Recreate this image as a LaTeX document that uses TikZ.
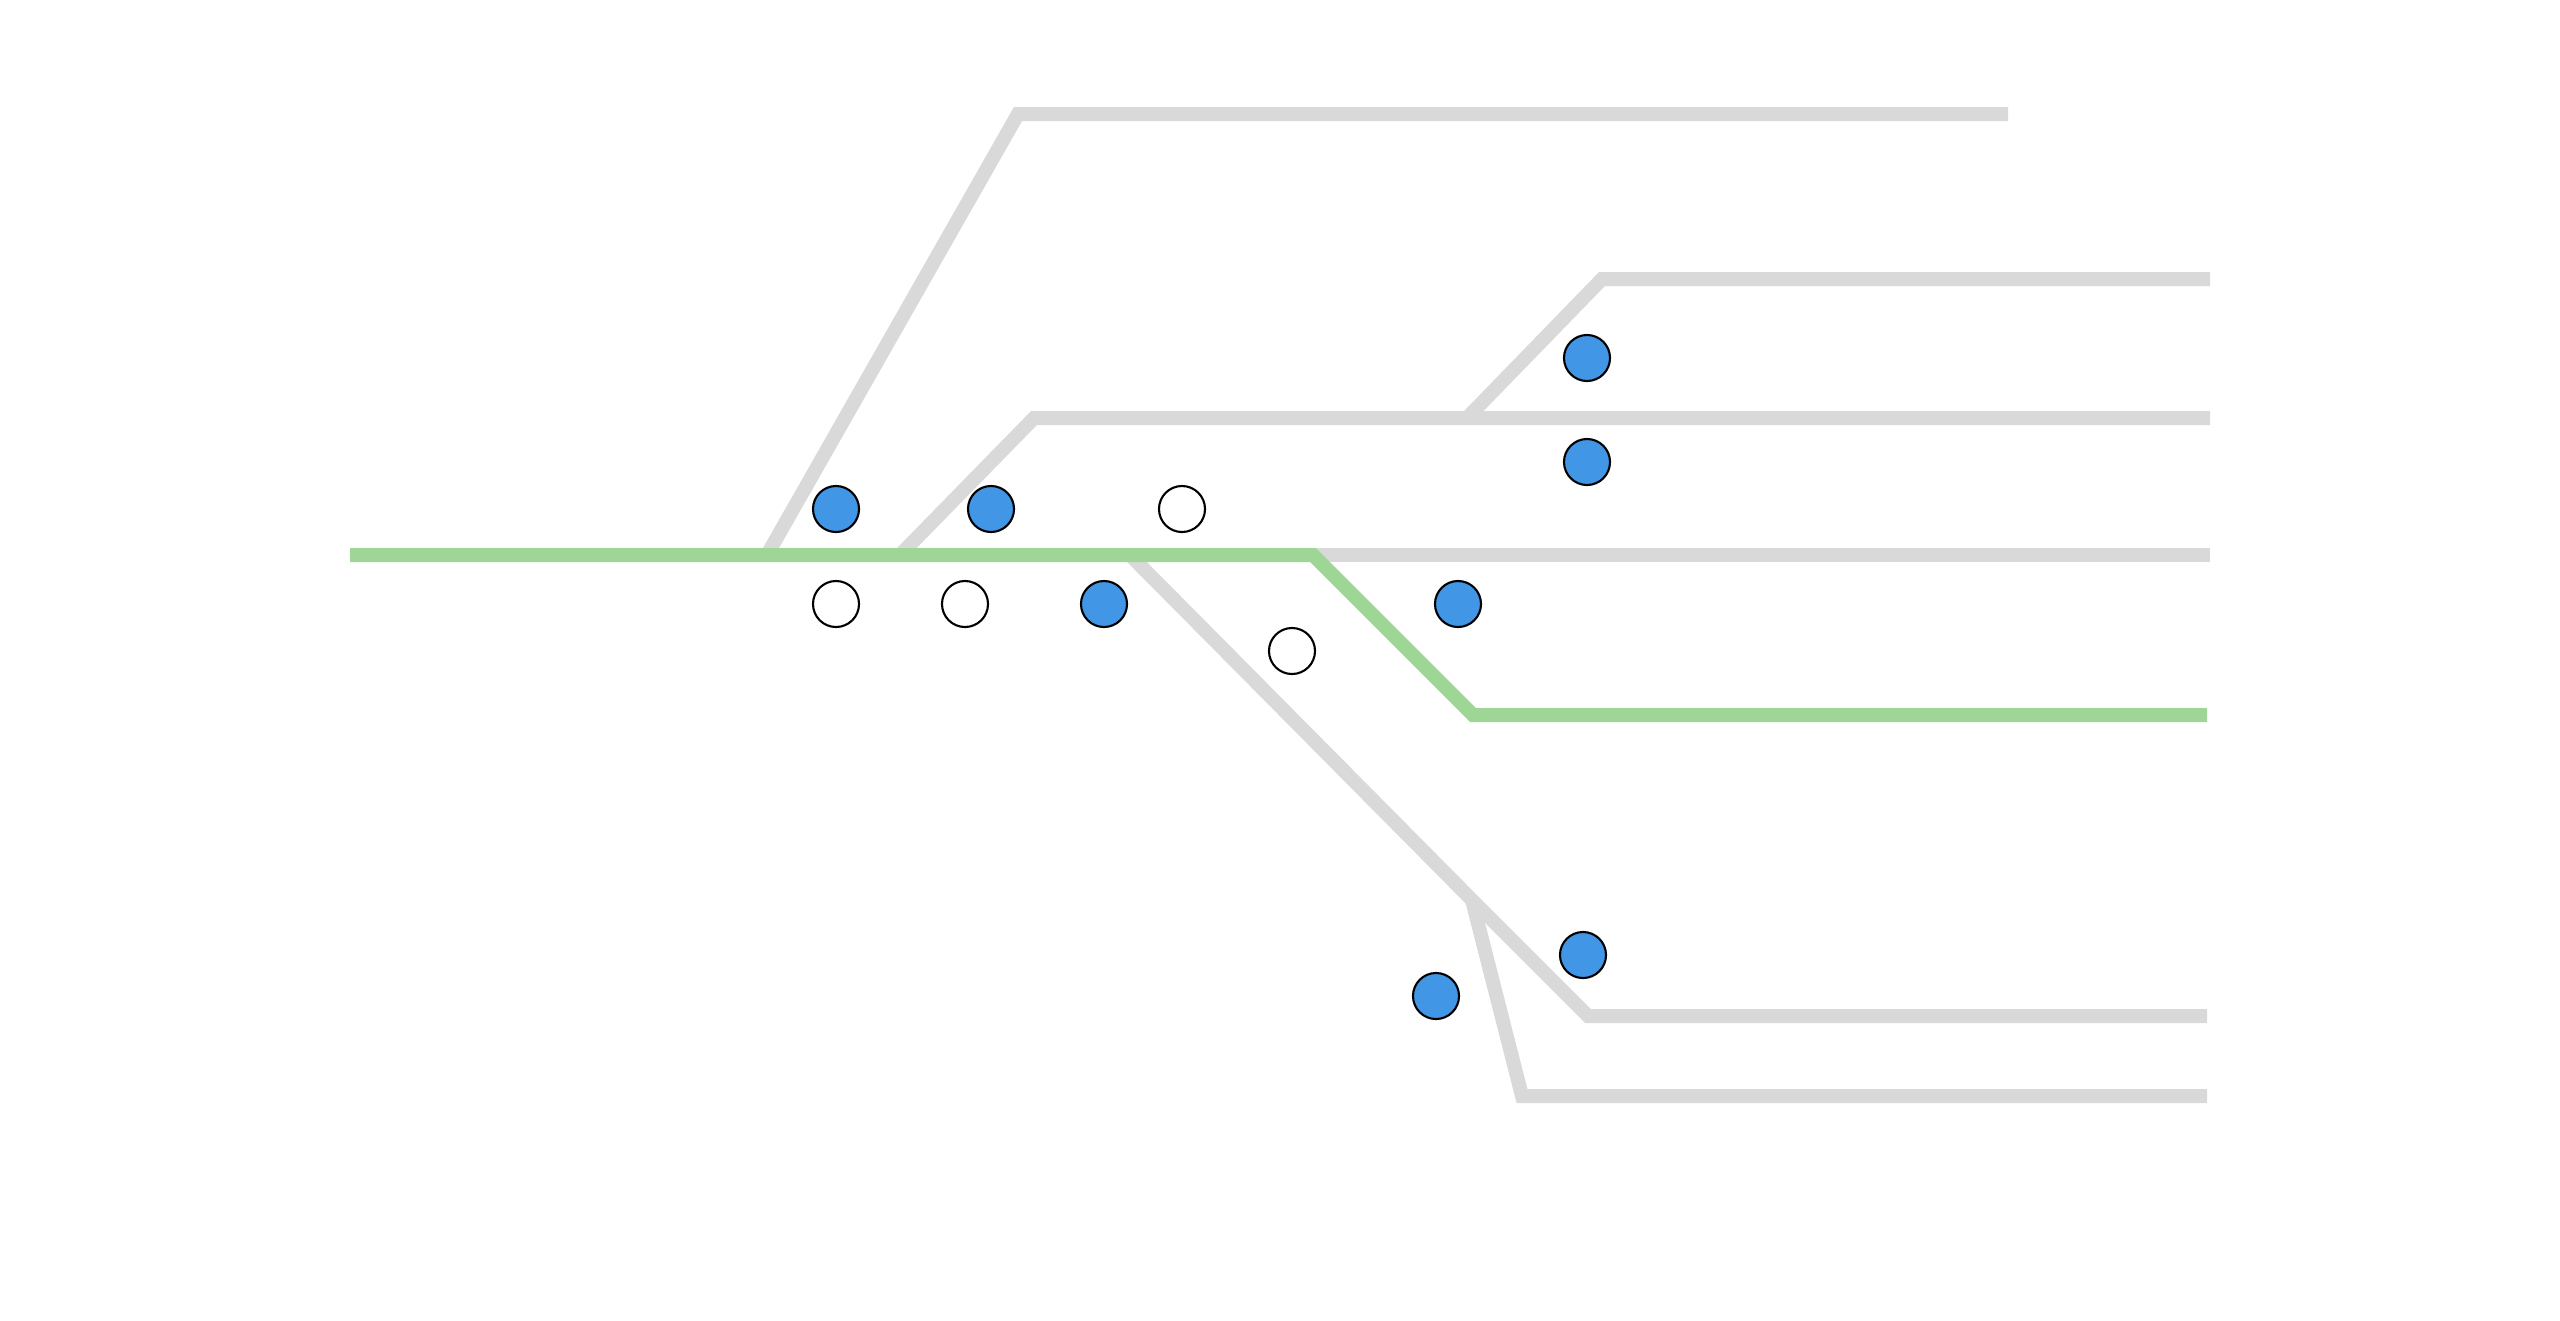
\documentclass[tikz,border=0pt]{standalone}
\usepackage{tikz}
\usepackage{xcolor}
\definecolor{trackgray}{RGB}{217,217,217}
\definecolor{routegreen}{RGB}{158,214,149}
\definecolor{signalblue}{RGB}{66,150,230}

\begin{document}
\begin{tikzpicture}[
    x=0.01cm, y=-0.01cm,
    track/.style={draw=trackgray, line width=0.14cm},
    route/.style={draw=routegreen, line width=0.14cm},
    signal/.style={circle, draw=black, line width=0.6pt, minimum size=0.46cm, inner sep=0pt},
    sigon/.style={signal, fill=signalblue},
    sigoff/.style={signal, fill=white}
]
    \useasboundingbox (0,0) rectangle (2560,1320);

    % Junction points
    \coordinate (jtop) at (767,555);
    \coordinate (jmid) at (900,555);
    \coordinate (jup) at (1467,418);
    \coordinate (jdown) at (1130,555);
    \coordinate (jsplit) at (1472,900);
    \coordinate (jroute) at (1313,555);

    % Tracks
    \draw[track] (jtop) -- (1018,114) -- (2008,114);
    \draw[track] (jmid) -- (1034,418) -- (2210,418);
    \draw[track] (jup) -- (1602,279) -- (2210,279);
    \draw[track] (jroute) -- (2210,555);
    \draw[track] (jdown) -- (jsplit) -- (1588,1016) -- (2207,1016);
    \draw[track] (jsplit) -- (1522,1096) -- (2207,1096);

    % Set route
    \draw[route] (350,555) -- (jroute) -- (1473,715) -- (2207,715);

    % Signals above main line
    \node[sigon] (s1) at (836,509) {};
    \node[sigon] (s2) at (991,509) {};
    \node[sigoff] (s3) at (1182,509) {};
    \node[sigon] (s4) at (1587,358) {};
    \node[sigon] (s5) at (1587,462) {};

    % Signals below main line
    \node[sigoff] (s6) at (836,604) {};
    \node[sigoff] (s7) at (965,604) {};
    \node[sigon] (s8) at (1104,604) {};
    \node[sigoff] (s9) at (1292,651) {};
    \node[sigon] (s10) at (1458,604) {};
    \node[sigon] (s11) at (1583,955) {};
    \node[sigon] (s12) at (1436,996) {};

\end{tikzpicture}
\end{document}
